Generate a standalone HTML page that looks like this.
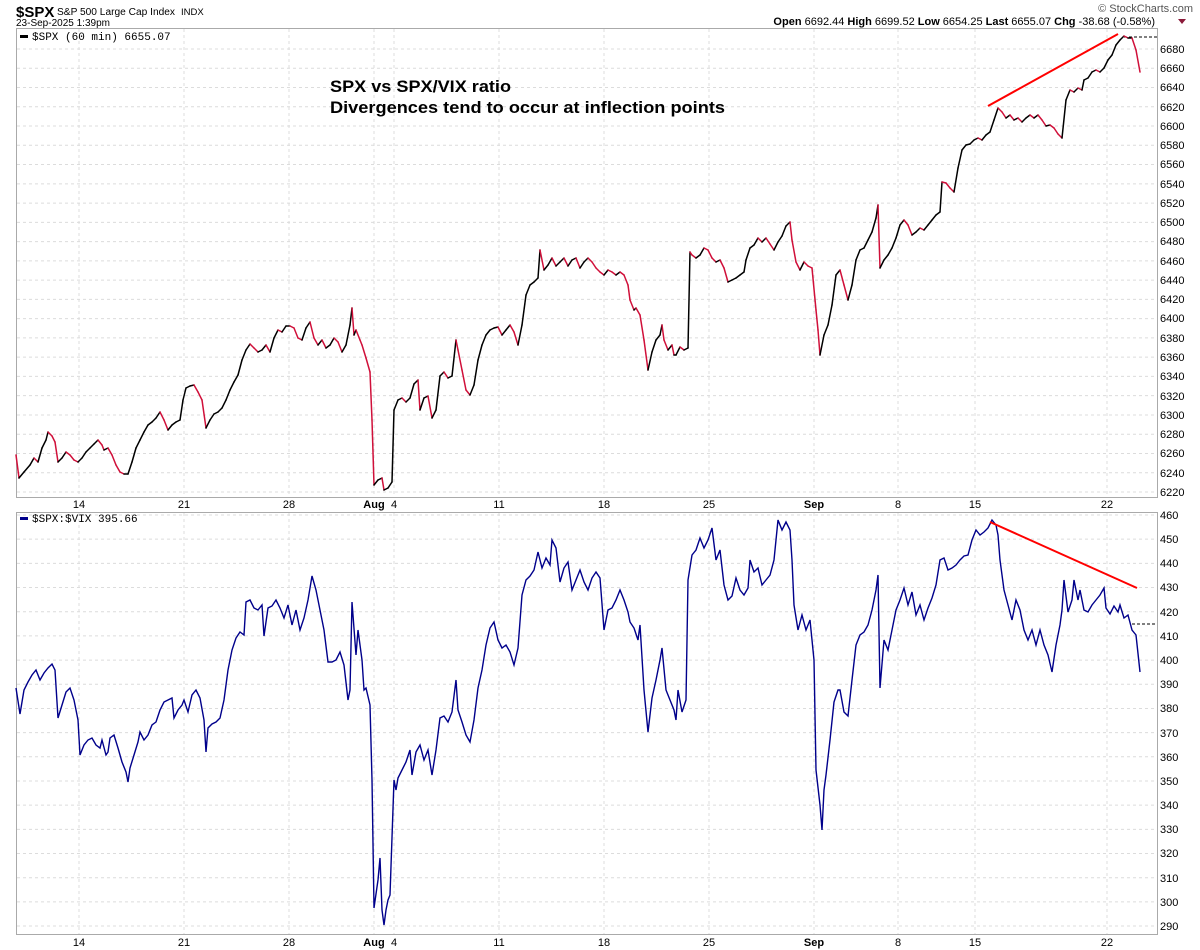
<!DOCTYPE html>
<html><head><meta charset="utf-8"><style>
body{margin:0;background:#fff;}
svg{display:block;font-family:"Liberation Sans",sans-serif;}
.ax{font-size:11px;fill:#000;}
</style></head><body>
<svg id="s" width="1200" height="950" xmlns="http://www.w3.org/2000/svg">
<rect width="1200" height="950" fill="#fff"/>
<g id="grid" stroke="#dcdcdc" stroke-dasharray="3,3" stroke-width="1"></g>
<rect x="16.5" y="28.5" width="1141" height="469" fill="none" stroke="#aaa"/>
<rect x="16.5" y="512.5" width="1141" height="422" fill="none" stroke="#aaa"/>
<text x="16" y="17" font-size="15" font-weight="bold">$SPX</text>
<text x="57" y="15" font-size="10" textLength="118" lengthAdjust="spacingAndGlyphs">S&amp;P 500 Large Cap Index</text>
<text x="181" y="15" font-size="9.5">INDX</text>
<text x="16" y="26" font-size="10">23-Sep-2025 1:39pm</text>
<text x="1193" y="12" font-size="11" fill="#555" text-anchor="end">© StockCharts.com</text>
<text x="1155" y="25" font-size="11" text-anchor="end"><tspan font-weight="bold">Open</tspan> 6692.44 <tspan font-weight="bold">High</tspan> 6699.52 <tspan font-weight="bold">Low</tspan> 6654.25 <tspan font-weight="bold">Last</tspan> 6655.07 <tspan font-weight="bold">Chg</tspan> -38.68 (-0.58%)</text>
<polygon points="1178,19 1186,19 1182,24" fill="#8b1a3a"/>
<rect x="20" y="35" width="8" height="3" fill="#000"/>
<text x="32" y="40" font-size="11" font-family="Liberation Mono,monospace">$SPX (60 min) 6655.07</text>
<rect x="20" y="517" width="8" height="3" fill="#00008b"/>
<text x="32" y="522" font-size="11" font-family="Liberation Mono,monospace">$SPX:$VIX 395.66</text>
<text x="330" y="92" font-size="17" font-weight="bold" textLength="181" lengthAdjust="spacingAndGlyphs">SPX vs SPX/VIX ratio</text>
<text x="330" y="113" font-size="17" font-weight="bold" textLength="395" lengthAdjust="spacingAndGlyphs">Divergences tend to occur at inflection points</text>
<g class="ax">
<text x="1160" y="53">6680</text><text x="1160" y="72">6660</text><text x="1160" y="91">6640</text><text x="1160" y="111">6620</text><text x="1160" y="130">6600</text><text x="1160" y="149">6580</text><text x="1160" y="168">6560</text><text x="1160" y="188">6540</text><text x="1160" y="207">6520</text><text x="1160" y="226">6500</text><text x="1160" y="245">6480</text><text x="1160" y="265">6460</text><text x="1160" y="284">6440</text><text x="1160" y="303">6420</text><text x="1160" y="322">6400</text><text x="1160" y="342">6380</text><text x="1160" y="361">6360</text><text x="1160" y="380">6340</text><text x="1160" y="400">6320</text><text x="1160" y="419">6300</text><text x="1160" y="438">6280</text><text x="1160" y="457">6260</text><text x="1160" y="477">6240</text><text x="1160" y="496">6220</text>
<text x="1160" y="519">460</text><text x="1160" y="543">450</text><text x="1160" y="567">440</text><text x="1160" y="591">430</text><text x="1160" y="616">420</text><text x="1160" y="640">410</text><text x="1160" y="664">400</text><text x="1160" y="688">390</text><text x="1160" y="712">380</text><text x="1160" y="737">370</text><text x="1160" y="761">360</text><text x="1160" y="785">350</text><text x="1160" y="809">340</text><text x="1160" y="833">330</text><text x="1160" y="857">320</text><text x="1160" y="882">310</text><text x="1160" y="906">300</text><text x="1160" y="930">290</text>
</g>
<g class="ax" text-anchor="middle">
<text x="79" y="508">14</text><text x="184" y="508">21</text><text x="289" y="508">28</text><text x="374" y="508" font-weight="bold">Aug</text><text x="394" y="508">4</text><text x="499" y="508">11</text><text x="604" y="508">18</text><text x="709" y="508">25</text><text x="814" y="508" font-weight="bold">Sep</text><text x="898" y="508">8</text><text x="975" y="508">15</text><text x="1107" y="508">22</text>
<text x="79" y="946">14</text><text x="184" y="946">21</text><text x="289" y="946">28</text><text x="374" y="946" font-weight="bold">Aug</text><text x="394" y="946">4</text><text x="499" y="946">11</text><text x="604" y="946">18</text><text x="709" y="946">25</text><text x="814" y="946" font-weight="bold">Sep</text><text x="898" y="946">8</text><text x="975" y="946">15</text><text x="1107" y="946">22</text>
</g>
<line x1="1124" y1="37" x2="1157" y2="37" stroke="#000" stroke-dasharray="3,2"/>
<line x1="1132" y1="624" x2="1157" y2="624" stroke="#000" stroke-dasharray="3,2"/>
<g id="spx"></g>
<polyline id="vix" fill="none" stroke="#00008b" stroke-width="1.4" points=""/>
<line x1="988" y1="106" x2="1118" y2="34" stroke="#f00" stroke-width="2"/>
<line x1="990" y1="522" x2="1137" y2="588" stroke="#f00" stroke-width="2"/>
</svg>
<script>
var NS="http://www.w3.org/2000/svg";
var g=document.getElementById("grid");
function ln(x1,y1,x2,y2){var l=document.createElementNS(NS,"line");l.setAttribute("x1",x1);l.setAttribute("y1",y1);l.setAttribute("x2",x2);l.setAttribute("y2",y2);g.appendChild(l);}
for(var v=6220;v<=6680;v+=20){var y=49+(6680-v)*0.963;ln(17,y,1157,y);}
for(var v=290;v<=460;v+=10){var y=515+(460-v)*2.418;ln(17,y,1157,y);}
[79,184,289,374,394,499,604,709,814,898,975,1107].forEach(function(x){ln(x,29,x,497);ln(x,513,x,934);});
var S=[16,455,19,478,24,472,30,465,34,458,38,462,42,448,46,440,48,432,52,436,55,442,58,462,62,458,66,452,70,455,74,460,78,462,82,458,86,452,90,448,94,444,98,440,102,445,104,450,108,448,112,455,116,465,120,472,124,474,128,474,132,462,136,448,140,440,144,432,148,425,152,422,156,418,160,412,164,420,168,430,172,425,176,422,180,420,183,400,186,388,190,386,194,385,198,392,202,400,206,428,210,420,214,414,218,412,222,408,226,400,230,390,234,382,238,375,242,360,246,350,250,344,254,348,258,352,262,350,266,345,270,352,274,338,278,330,282,332,286,326,290,326,294,328,298,338,302,340,306,328,310,322,314,338,318,345,322,340,326,348,330,345,334,338,338,342,342,352,346,345,350,325,352,308,354,335,356,330,360,340,362,345,366,358,370,372,372,420,374,485,378,480,382,478,384,490,388,488,392,482,394,410,398,400,402,398,406,402,410,398,414,384,418,380,420,410,424,398,428,396,432,418,436,410,440,376,444,372,448,378,452,376,456,340,458,350,462,370,466,390,470,395,474,385,478,360,482,345,486,335,490,330,494,328,498,327,502,335,506,330,510,325,514,332,518,345,522,325,526,295,530,285,534,282,538,278,540,250,544,270,548,265,552,258,556,266,560,262,564,258,568,266,572,260,576,258,580,268,584,262,588,258,592,262,596,268,600,272,604,275,608,270,612,272,616,275,620,272,624,275,628,285,630,300,634,310,636,308,640,315,644,340,648,370,652,352,656,340,660,335,662,325,664,340,668,350,672,345,674,355,676,355,680,347,684,350,688,348,690,252,692,255,696,258,700,255,704,248,708,250,712,258,716,262,720,260,724,268,728,282,732,280,736,278,740,275,744,272,746,260,750,248,754,245,758,238,762,242,766,238,770,244,774,250,778,242,782,236,786,226,790,222,792,240,796,262,800,270,804,262,808,266,812,268,816,310,818,330,820,355,824,335,828,325,832,305,836,275,840,270,844,285,848,300,852,285,856,260,860,250,864,248,868,240,872,232,876,218,878,205,880,268,884,260,888,255,892,248,896,238,900,225,904,220,908,225,912,235,916,232,920,228,924,230,928,225,932,220,936,215,940,212,942,182,946,183,950,188,954,192,958,168,962,150,966,145,970,144,974,140,978,138,982,140,986,135,990,132,994,120,998,108,1002,112,1006,118,1010,115,1014,120,1018,118,1022,122,1026,118,1030,115,1034,118,1038,115,1042,120,1046,126,1050,125,1054,128,1058,134,1062,138,1066,100,1070,90,1074,92,1078,88,1082,90,1084,80,1088,78,1092,72,1096,70,1100,72,1104,68,1108,60,1112,55,1116,45,1120,40,1124,36,1128,38,1132,38,1136,50,1140,72];
var sg=document.getElementById("spx");
for(var i=0;i+3<S.length;i+=2){var l=document.createElementNS(NS,"line");l.setAttribute("x1",S[i]);l.setAttribute("y1",S[i+1]);l.setAttribute("x2",S[i+2]);l.setAttribute("y2",S[i+3]);l.setAttribute("stroke",S[i+3]>S[i+1]?"#d0103a":"#000");l.setAttribute("stroke-width","1.5");l.setAttribute("stroke-linecap","round");sg.appendChild(l);}
var V=[16,688,20,714,24,690,28,682,32,675,36,670,40,680,44,673,48,668,52,664,55,670,58,718,62,705,66,692,70,688,74,700,78,720,80,755,84,745,88,740,92,738,96,745,100,748,102,740,106,755,108,752,110,738,114,735,118,748,122,762,126,772,128,782,130,768,134,755,138,742,140,732,144,740,148,735,152,725,156,722,160,710,164,702,168,700,172,698,174,718,178,710,182,705,184,700,188,712,192,695,196,690,200,698,204,720,206,752,208,728,212,724,216,722,220,718,224,700,228,670,232,650,236,638,240,632,244,635,246,602,250,600,254,608,258,610,262,605,264,636,268,608,272,606,276,600,280,608,284,618,288,605,292,625,296,610,300,630,304,618,308,600,312,576,316,590,320,610,324,630,328,662,332,662,336,660,340,652,344,665,348,700,350,690,352,602,356,655,358,630,362,660,364,690,366,688,370,705,372,780,374,908,378,880,380,858,382,910,384,925,386,910,388,900,390,895,394,780,396,790,398,778,402,770,406,762,410,750,412,775,416,752,420,745,424,760,428,750,432,775,436,750,440,718,444,716,448,722,452,712,456,680,458,710,462,722,466,735,470,742,474,720,478,688,482,670,486,645,490,628,494,622,498,640,502,648,506,645,510,652,514,665,518,648,522,595,526,580,530,576,534,570,538,552,542,568,546,558,550,565,552,540,556,548,560,582,564,568,568,562,572,590,576,580,580,570,584,582,588,590,592,578,596,572,600,578,604,630,608,610,612,608,616,600,620,590,624,600,628,612,630,622,634,628,638,640,640,625,644,690,648,732,652,698,656,680,660,660,662,648,666,690,670,700,674,710,676,720,678,690,682,712,686,700,688,580,692,555,696,550,700,538,704,548,708,540,712,528,716,560,720,550,724,585,728,600,732,596,736,578,740,590,744,595,748,588,750,560,754,572,758,568,762,585,766,580,770,575,774,560,778,520,782,530,786,522,790,530,792,560,794,605,798,630,802,615,806,630,810,620,814,660,816,770,820,805,822,830,824,790,826,775,830,740,834,702,838,690,840,690,844,712,848,716,852,680,856,645,860,635,864,632,868,625,872,610,876,590,878,575,880,688,884,640,888,650,892,630,896,610,900,600,904,588,908,605,912,592,916,615,920,605,924,620,928,608,932,598,936,585,940,560,944,558,948,570,952,568,956,565,960,560,964,556,968,555,972,540,976,530,980,535,984,532,988,528,992,520,996,525,998,535,1000,560,1004,590,1008,605,1012,620,1016,600,1020,610,1024,630,1028,640,1032,630,1036,645,1040,630,1044,645,1048,655,1052,672,1056,645,1060,625,1062,610,1064,580,1068,612,1072,600,1074,580,1078,600,1080,590,1084,610,1088,612,1092,605,1096,600,1100,595,1104,588,1106,608,1110,614,1114,606,1118,612,1120,605,1124,618,1128,615,1132,630,1136,635,1140,672];
var p=[];for(var i=0;i<V.length;i+=2)p.push(V[i]+","+V[i+1]);
document.getElementById("vix").setAttribute("points",p.join(" "));
</script>
</body></html>
